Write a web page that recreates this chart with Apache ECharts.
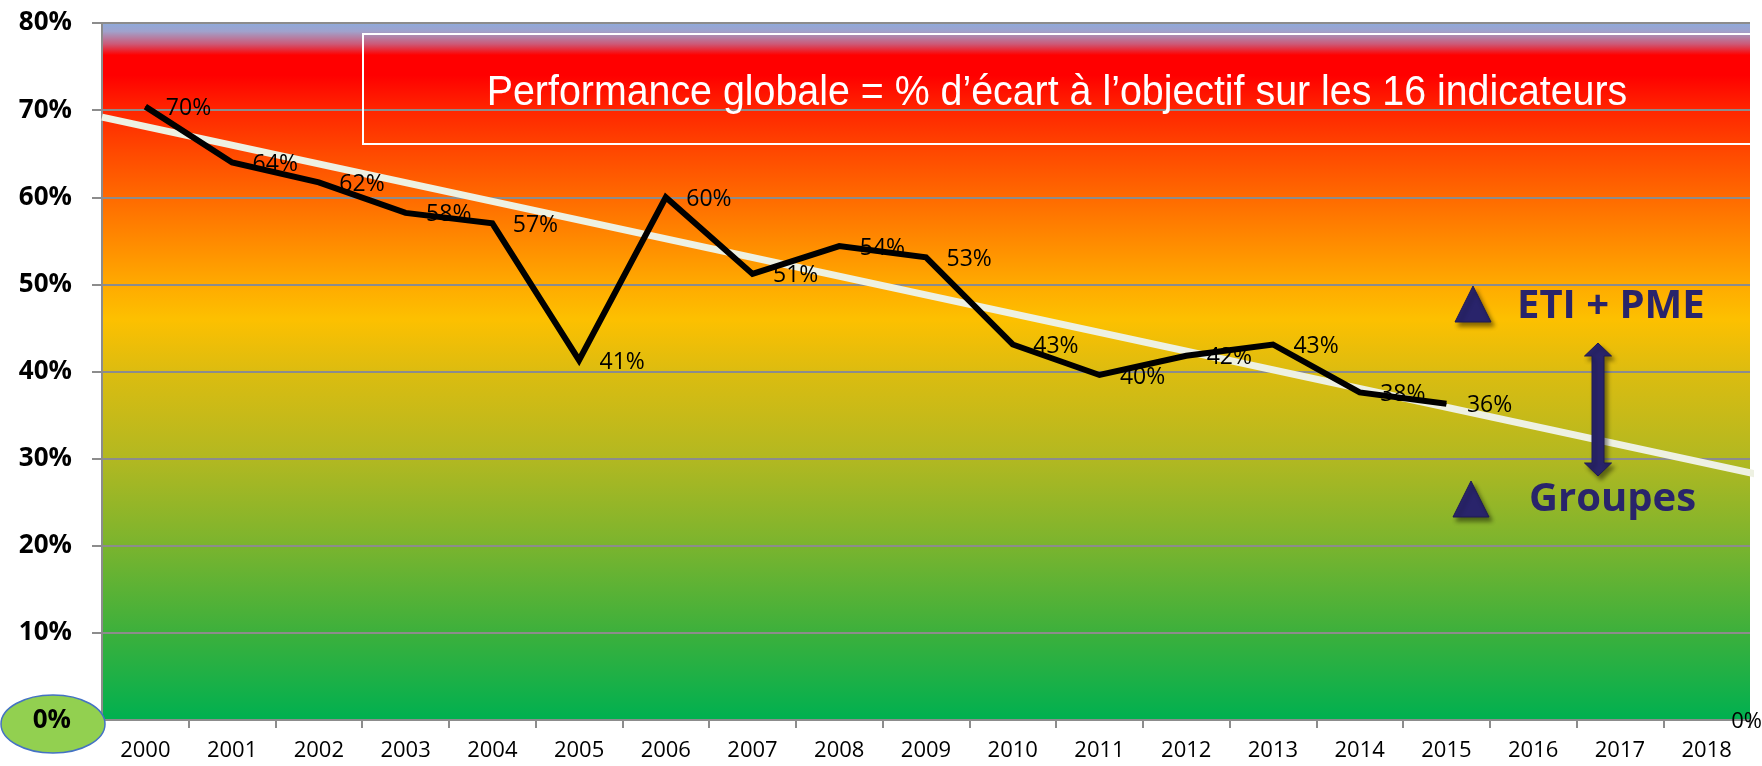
<!DOCTYPE html>
<html>
<head>
<meta charset="utf-8">
<script src="https://cdn.jsdelivr.net/npm/echarts@6/dist/echarts.min.js"></script>
<style>
html,body{margin:0;padding:0;background:#fff;}
#chart{width:1762px;height:766px;}
</style>
</head>
<body>
<div id="chart"></div>
<script>
// ---- data ----
const years = ['2000','2001','2002','2003','2004','2005','2006','2007','2008','2009','2010','2011','2012','2013','2014','2015','2016','2017','2018'];
const performance = [70.4, 64.0, 61.7, 58.2, 57.0, 41.3, 60.0, 51.2, 54.4, 53.1, 43.1, 39.6, 41.8, 43.1, 37.6, 36.3, null, null, null];
const trendX = [-0.5, 18.58];
const trendY = [69.2, 28.2];
const yTicks = [0, 10, 20, 30, 40, 50, 60, 70, 80];
const titleText = 'Performance globale = % d\u2019\u00e9cart \u00e0 l\u2019objectif sur les 16 indicateurs';
const legendUpper = 'ETI + PME';
const legendLower = 'Groupes';

const chart = echarts.init(document.getElementById('chart'));
const navy = '#29246b';
const shadow = {shadowBlur: 4, shadowOffsetX: 3, shadowOffsetY: 4, shadowColor: 'rgba(0,0,0,0.45)'};

const bg = new echarts.graphic.LinearGradient(0, 0, 0, 1, [
  {offset: 0.000, color: '#8eaadb'},
  {offset: 0.012, color: '#a0a2cc'},
  {offset: 0.030, color: '#cc5a78'},
  {offset: 0.046, color: '#ff0000'},
  {offset: 0.075, color: '#ff0000'},
  {offset: 0.125, color: '#ff2600'},
  {offset: 0.1875, color: '#ff4a00'},
  {offset: 0.250, color: '#ff6a00'},
  {offset: 0.3125, color: '#ff8a00'},
  {offset: 0.375, color: '#ffaa00'},
  {offset: 0.425, color: '#fdc000'},
  {offset: 0.500, color: '#dcbc10'},
  {offset: 0.625, color: '#b2b821'},
  {offset: 0.750, color: '#7ab42e'},
  {offset: 0.875, color: '#3cb03c'},
  {offset: 1.000, color: '#00b050'}
]);

const option = {
  animation: false,
  backgroundColor: '#ffffff',
  grid: {left: 102, right: 12, top: 23, bottom: 46, show: true, backgroundColor: bg, borderWidth: 0},
  xAxis: [{
    type: 'category',
    data: years,
    boundaryGap: true,
    axisLine: {show: true, onZero: false, lineStyle: {color: '#8c8c8c', width: 2}},
    axisTick: {show: true, length: 8, lineStyle: {color: '#8c8c8c', width: 2}},
    axisLabel: {color: '#000', fontSize: 22, fontFamily: '"Open Sans", sans-serif', margin: 20},
    splitLine: {show: false}
  }, {
    type: 'value', min: -0.5, max: 18.5, show: false,
    axisLine: {show: false}, splitLine: {show: false}, axisTick: {show: false}, axisLabel: {show: false}
  }],
  yAxis: {
    type: 'value',
    min: yTicks[0], max: yTicks[yTicks.length - 1], interval: 10,
    axisLine: {show: true, onZero: false, lineStyle: {color: '#8c8c8c', width: 2}},
    axisTick: {show: true, length: 10, lineStyle: {color: '#8c8c8c', width: 2}},
    axisLabel: {
      color: '#000', fontSize: 26, fontWeight: 'bold', fontFamily: '"Open Sans", sans-serif', margin: 30,
      formatter: v => v === 0 ? '' : v + '%'
    },
    splitLine: {show: true, lineStyle: {color: '#8c8c8c', width: 2}}
  },
  series: [{
    type: 'line',
    name: 'trend',
    xAxisIndex: 1,
    data: trendX.map((x, i) => [x, trendY[i]]),
    symbol: 'none',
    clip: false,
    lineStyle: {color: '#eef1e2', width: 7},
    z: 3
  }, {
    type: 'line',
    name: 'performance',
    data: performance,
    symbol: 'circle',
    symbolSize: 1,
    itemStyle: {color: '#000'},
    lineStyle: {color: '#000', width: 6, join: 'miter'},
    label: {
      show: true, position: 'right', distance: 20, offset: [0, 2],
      color: '#000', fontSize: 23, fontFamily: '"Open Sans", sans-serif',
      formatter: p => Math.round(p.value) + '%'
    },
    z: 4
  }],
  graphic: [
    {type: 'rect', z: 10, shape: {x: 363, y: 34, width: 1390, height: 110},
     style: {fill: 'none', stroke: '#ffffff', lineWidth: 2}},
    {type: 'text', z: 11, x: 1057, y: 93, scaleX: 0.915, scaleY: 1,
     style: {text: titleText, x: 0, y: 0, align: 'center', verticalAlign: 'middle',
      fontSize: 43, fontFamily: '"Liberation Sans", Arial, sans-serif', fill: '#ffffff'}},
    {type: 'ellipse', z: 10, shape: {cx: 53, cy: 724, rx: 52, ry: 29},
     style: {fill: '#92d050', stroke: '#4472c4', lineWidth: 1.5}},
    {type: 'text', z: 11, style: {text: '0%', x: 71, y: 721, align: 'right', verticalAlign: 'middle',
      fontSize: 26, fontWeight: 'bold', fontFamily: '"Open Sans", sans-serif', fill: '#000'}},
    {type: 'text', z: 11, style: {text: '0%', x: 1762, y: 722, align: 'right', verticalAlign: 'middle',
      fontSize: 22, fontFamily: '"Open Sans", sans-serif', fill: '#000'}},
    {type: 'polygon', z: 10, shape: {points: [[1455, 322], [1491, 322], [1473, 286]]},
     style: Object.assign({fill: navy, stroke: '#1f1a55', lineWidth: 1}, shadow)},
    {type: 'polygon', z: 10, shape: {points: [[1453, 517], [1489, 517], [1471, 481]]},
     style: Object.assign({fill: navy, stroke: '#1f1a55', lineWidth: 1}, shadow)},
    {type: 'polygon', z: 10, shape: {points: [
      [1598, 343], [1611.5, 356], [1604, 356], [1604, 463], [1611.5, 463], [1598, 476],
      [1584.5, 463], [1592, 463], [1592, 356], [1584.5, 356]]},
     style: Object.assign({fill: navy, stroke: '#1f1a55', lineWidth: 1}, shadow)},
    {type: 'text', z: 11, style: {text: legendUpper, x: 1517, y: 307, align: 'left', verticalAlign: 'middle',
      fontSize: 40, fontWeight: 'bold', fontFamily: '"Open Sans", sans-serif', fill: navy}},
    {type: 'text', z: 11, style: {text: legendLower, x: 1529, y: 500, align: 'left', verticalAlign: 'middle',
      fontSize: 40, fontWeight: 'bold', fontFamily: '"Open Sans", sans-serif', fill: navy}}
  ]
};
chart.setOption(option);
</script>
</body>
</html>
